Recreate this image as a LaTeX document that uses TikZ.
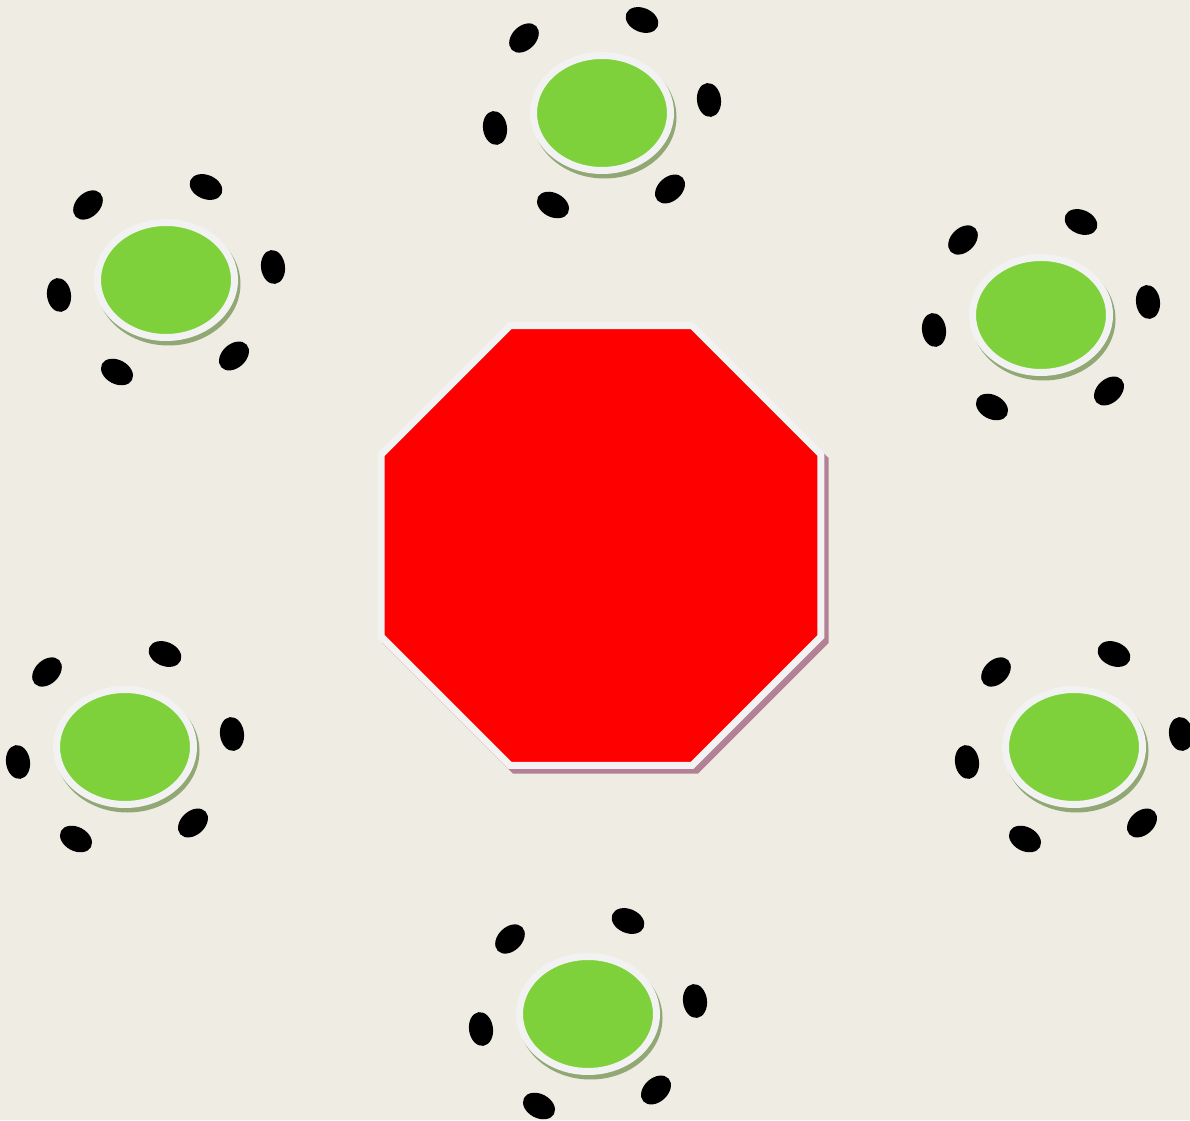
\documentclass[tikz,border=0pt]{standalone}
\usepackage{tikz}

\definecolor{paper}{RGB}{239,236,228}
\definecolor{rimwhite}{RGB}{242,242,242}
\definecolor{padgreen}{RGB}{126,209,59}
\definecolor{padshade}{RGB}{146,168,116}
\definecolor{stopshade}{RGB}{180,128,148}

\tikzset{
  pad/.style={fill=padgreen, draw=rimwhite, line width=0.14cm},
  padshadow/.style={fill=padshade},
  seat/.style={fill=black},
  stopsign/.style={fill=red, draw=rimwhite, line width=0.14cm, line join=miter},
  stopshadow/.style={fill=stopshade}
}

\begin{document}
\begin{tikzpicture}[x=0.02cm,y=0.02cm]
\fill[paper] (0,0) rectangle (1190,1120);
\useasboundingbox (0,0) rectangle (1190,1120);

% table in the middle
\coordinate (stop) at (601,574.5);
\fill[stopshadow, shift={(stop)}, xshift=0.09cm, yshift=-0.1cm]
  (22.5:241.5) \foreach \a in {67.5,112.5,...,337.5}{ -- (\a:241.5)} -- cycle;
\draw[stopsign, shift={(stop)}]
  (22.5:238) \foreach \a in {67.5,112.5,...,337.5}{ -- (\a:238)} -- cycle;

% round tables with six seats each
\coordinate (top) at (602,1007);
\coordinate (upleft) at (166,840);
\coordinate (upright) at (1041,805);
\coordinate (lowleft) at (125,373);
\coordinate (lowright) at (1074,373);
\coordinate (bottom) at (588,106);

\foreach \t in {top,upleft,upright,lowleft,lowright,bottom}{
  \fill[padshadow] ([xshift=0.05cm,yshift=-0.08cm]\t) ellipse [x radius=72, y radius=61.5];
  \draw[pad] (\t) ellipse [x radius=68.5, y radius=57.5];
  \foreach \dx/\dy/\r in {107/13/7, 40/93/67, -78/75/134, -107/-15/188, -49/-92/242, 68/-76/312}
    \fill[seat] ([shift={(\dx,\dy)}]\t) ellipse [x radius=12, y radius=17, rotate=\r];
}
\end{tikzpicture}
\end{document}
